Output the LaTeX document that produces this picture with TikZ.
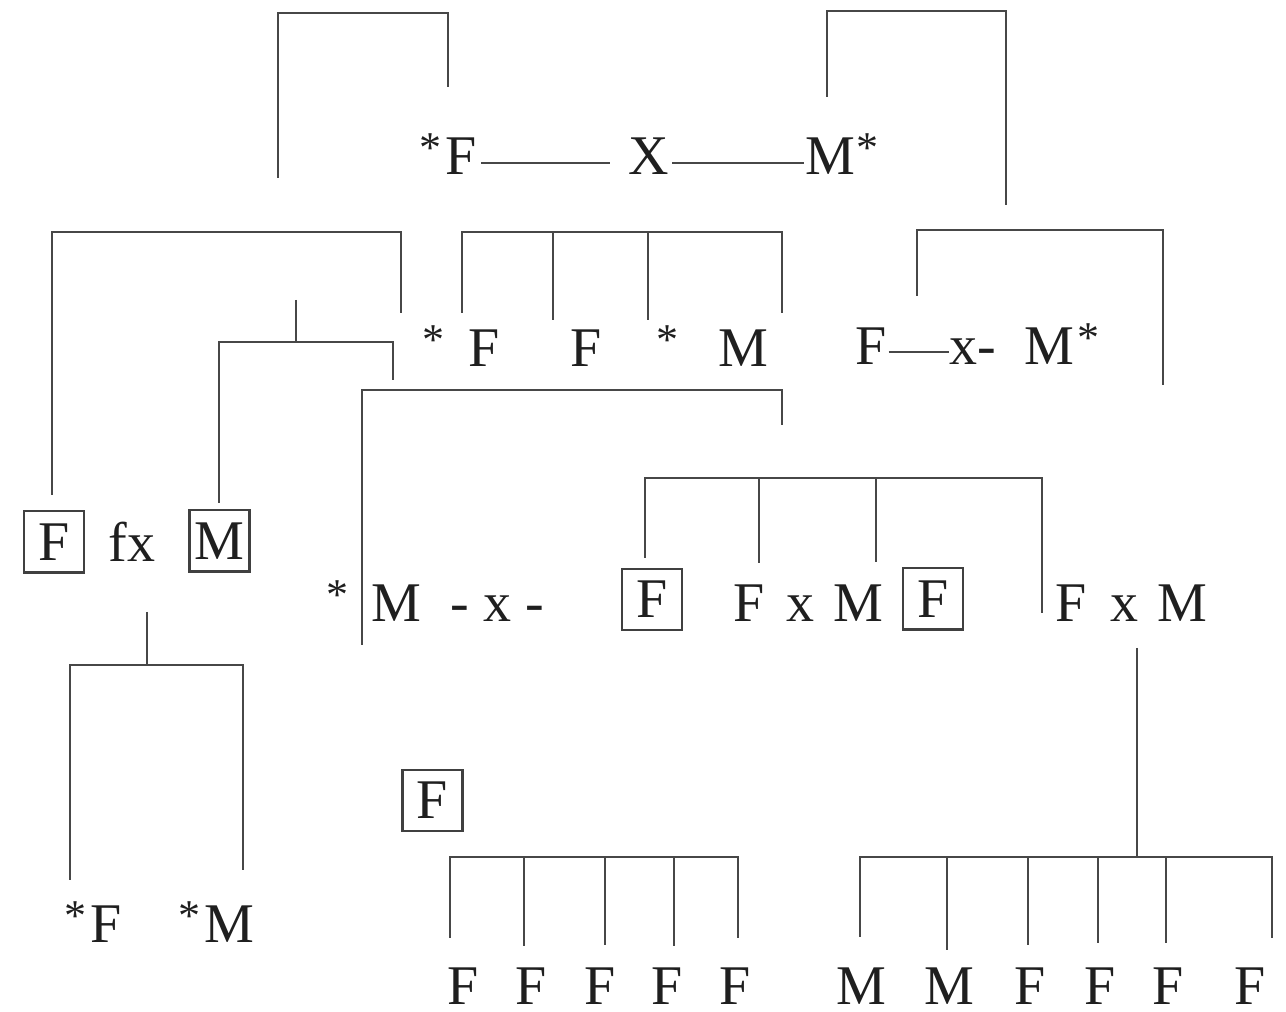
\documentclass[tikz,border=0pt]{standalone}
\usepackage{fontspec}
\setmainfont{Liberation Serif}
% small raised star used as the marker of affected individuals
\newcommand\mk{\raisebox{3pt}{\fontsize{11pt}{12pt}\selectfont *}}
\begin{document}
\begin{tikzpicture}[x=0.25pt,y=-0.25pt,
  lbl/.style={anchor=base,inner sep=0pt,text=black!88,font=\fontsize{14pt}{16pt}\selectfont},
  boxed/.style={draw=black!75,line width=0.55pt,minimum width=15pt,minimum height=15.3pt,
    inner sep=0pt,text=black!88,font=\fontsize{14pt}{16pt}\selectfont},
  link/.style={draw=black!72,line width=0.55pt}]
\useasboundingbox (0,0) rectangle (1286,1012);

% ---- generation I: the cross at the top
\node[lbl] (pF) at (448,175) {\mk\kern1pt F};
\node[lbl] (pX) at (649,175) {X};
\node[lbl] (pM) at (842,175) {M\kern0.5pt\mk};
\draw[link] ([xshift=1pt,yshift=3pt]pF.base east) -- ([xshift=-4.5pt,yshift=3pt]pX.base west);
\draw[link] ([xshift=0.5pt,yshift=3pt]pX.base east) -- ([yshift=3pt]pM.base west);

% ---- generation II
\node[lbl] (sA)  at (433,367) {\mk};
\node[lbl] (sF1) at (484,367) {F};
\node[lbl] (sF2) at (586,367) {F};
\node[lbl] (sB)  at (667,367) {\mk};
\node[lbl] (sM)  at (743,367) {M};
\node[lbl] (qF)  at (871,365) {F};
\node[lbl] (qx)  at (973,365) {x-};
\node[lbl] (qM)  at (1062,365) {M\kern1pt\mk};
\draw[link] ([xshift=0.3pt,yshift=3.25pt]qF.base east) -- ([yshift=3.25pt]qx.base west);

% ---- generation III
\node[boxed] (bF1) at (54,542) {F};
\node[lbl]   (fx)  at (132,562) {fx};
\node[boxed] (bM1) at (219.5,541) {M};
\node[lbl]   (rS)  at (337,622) {\mk};
\node[lbl]   (rM)  at (396,622) {M};
\node[lbl]   (rx)  at (497,622) {-~x~-};
\node[boxed] (bF2) at (652,599.5) {F};
\node[lbl]   (cF1) at (749,622) {F};
\node[lbl]   (cx1) at (800,622) {x};
\node[lbl]   (cM1) at (858,622) {M};
\node[boxed] (bF3) at (933,599) {F};
\node[lbl]   (cF2) at (1071,622) {F};
\node[lbl]   (cx2) at (1124,622) {x};
\node[lbl]   (cM2) at (1182,622) {M};

% ---- generation IV
\node[lbl]   (gF)  at (93,943) {\mk\kern1pt F};
\node[lbl]   (gM)  at (216,943) {\mk\kern1pt M};
\node[boxed] (bF4) at (432.5,800.5) {F};
\foreach \x [count=\i] in {463,531,600,667,735}
  \node[lbl] (dF\i) at (\x,1005) {F};
\node[lbl] (eM1) at (861,1005) {M};
\node[lbl] (eM2) at (949,1005) {M};
\foreach \x [count=\i] in {1030,1100,1168,1250}
  \node[lbl] (eF\i) at (\x,1005) {F};

% ---- bar levels of the sibship brackets
\coordinate (barA) at (0,13);
\coordinate (barB) at (0,11);
\coordinate (barC) at (0,232);
\coordinate (barE) at (0,230);
\coordinate (barG) at (0,342);
\coordinate (barH) at (0,390);
\coordinate (barK) at (0,478);
\coordinate (barL) at (0,665);
\coordinate (barN) at (0,857);

% ---- free ends of the bracket drops
\coordinate (tA1) at (278,178);  \coordinate (tA2) at (448,87);
\coordinate (tB1) at (827,97);   \coordinate (tB2) at (1006,205);
\coordinate (tC1) at (52,495);   \coordinate (tC2) at (401,313);
\coordinate (tD1) at (462,313);  \coordinate (tD2) at (553,320);
\coordinate (tD3) at (648,320);  \coordinate (tD4) at (782,313);
\coordinate (tE1) at (917,296);  \coordinate (tE2) at (1163,385);
\coordinate (tG0) at (296,300);  \coordinate (tG1) at (219,503);
\coordinate (tG2) at (393,380);
\coordinate (tH1) at (362,645);  \coordinate (tH2) at (782,425);
\coordinate (tK1) at (645,558);  \coordinate (tK2) at (759,563);
\coordinate (tK3) at (876,562);  \coordinate (tK4) at (1042,613);
\coordinate (tL0) at (147,612);  \coordinate (tL1) at (70,880);
\coordinate (tL2) at (243,870);
\coordinate (tN1) at (450,938);  \coordinate (tN2) at (524,946);
\coordinate (tN3) at (605,945);  \coordinate (tN4) at (674,946);
\coordinate (tN5) at (738,938);
\coordinate (tP0) at (1137,648);
\coordinate (tP1) at (860,937);  \coordinate (tP2) at (947,950);
\coordinate (tP3) at (1028,945); \coordinate (tP4) at (1098,943);
\coordinate (tP5) at (1166,943); \coordinate (tP6) at (1272,938);

% ---- brackets
\draw[link] (tA1) -- (tA1 |- barA) -- (tA2 |- barA) -- (tA2);
\draw[link] (tB1) -- (tB1 |- barB) -- (tB2 |- barB) -- (tB2);
\draw[link] (tC1) -- (tC1 |- barC) -- (tC2 |- barC) -- (tC2);
\draw[link] (tD1) -- (tD1 |- barC) -- (tD4 |- barC) -- (tD4);
\draw[link] (tD2) -- (tD2 |- barC);
\draw[link] (tD3) -- (tD3 |- barC);
\draw[link] (tE1) -- (tE1 |- barE) -- (tE2 |- barE) -- (tE2);
\draw[link] (tG0) -- (tG0 |- barG);
\draw[link] (tG1) -- (tG1 |- barG) -- (tG2 |- barG) -- (tG2);
\draw[link] (tH1) -- (tH1 |- barH) -- (tH2 |- barH) -- (tH2);
\draw[link] (tK1) -- (tK1 |- barK) -- (tK4 |- barK) -- (tK4);
\draw[link] (tK2) -- (tK2 |- barK);
\draw[link] (tK3) -- (tK3 |- barK);
\draw[link] (tL0) -- (tL0 |- barL);
\draw[link] (tL1) -- (tL1 |- barL) -- (tL2 |- barL) -- (tL2);
\draw[link] (tN1) -- (tN1 |- barN) -- (tN5 |- barN) -- (tN5);
\foreach \j in {2,3,4} \draw[link] (tN\j) -- (tN\j |- barN);
\draw[link] (tP0) -- (tP0 |- barN);
\draw[link] (tP1) -- (tP1 |- barN) -- (tP6 |- barN) -- (tP6);
\foreach \j in {2,3,4,5} \draw[link] (tP\j) -- (tP\j |- barN);
\end{tikzpicture}
\end{document}
